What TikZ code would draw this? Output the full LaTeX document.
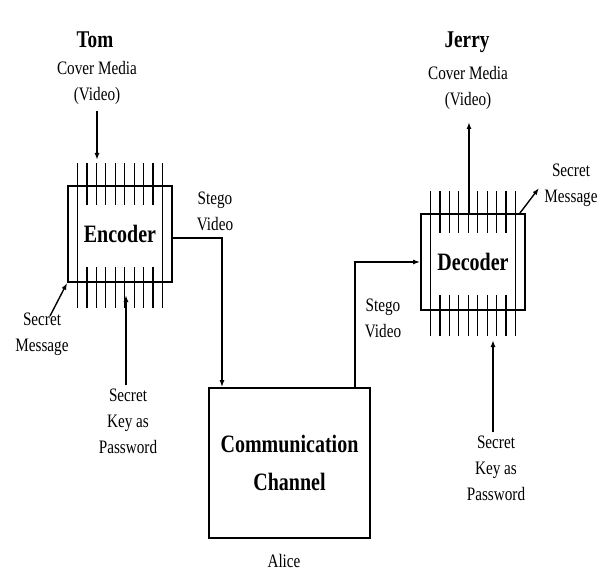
\documentclass[tikz,border=0pt]{standalone}
\usepackage{fontspec}
\setmainfont{Liberation Serif}[FakeStretch=0.8]
\usetikzlibrary{arrows.meta}
\begin{document}
\begin{tikzpicture}[x=1pt,y=-1pt,
  lbl/.style={font=\fontsize{19}{26}\selectfont, align=center, inner sep=0pt},
  ttl/.style={font=\fontsize{24}{28}\selectfont\bfseries, inner sep=0pt},
  block/.style={draw, line width=1.7pt, minimum width=104pt, minimum height=96pt, inner sep=0pt, font=\fontsize{25}{38}\selectfont\bfseries, align=center},
  tick/.style={line width=1.3pt},
  arr/.style={line width=1.4pt, -{Latex[length=7pt,width=5pt]}},
]
\useasboundingbox (0,0) rectangle (608,575);

% texts
\node[ttl] (tom) at (95,40) {Tom};
\node[lbl] (cmL) at (97,83) {Cover Media\\(Video)};
\node[ttl] (jerry) at (467,42) {Jerry};
\node[lbl] (cmR) at (468,88) {Cover Media\\(Video)};
\node[lbl] (svL) at (215,211) {Stego\\Video};
\node[lbl] (svR) at (383,318) {Stego\\Video};
\node[lbl] (smL) at (42,334) {Secret\\Message};
\node[lbl] (skL) at (128,421) {Secret\\Key as\\Password};
\node[lbl] (smR) at (571,185) {Secret\\Message};
\node[lbl] (skR) at (496,468) {Secret\\Key as\\Password};
\node[lbl] (alice) at (284,561) {Alice};

% blocks
\node[block] (enc) at (120,234) {Encoder};
\node[block] (dec) at (473,262) {Decoder};
\node[block, minimum width=161pt, minimum height=150pt] (cc) at (289.5,463) {Communication\\Channel};

% ticks
\foreach \b in {enc,dec} {
  \foreach \i in {0,...,9} {
    \draw[tick] ([xshift={-42.5pt+\i*9.444pt}, yshift=22pt]\b.north) -- ++(0,42);
    \draw[tick] ([xshift={-42.5pt+\i*9.444pt}, yshift=16pt]\b.south) -- ++(0,41);
  }
  \draw[tick] ([xshift=-42.5pt,yshift=22pt]\b.north) -- ([xshift=-42.5pt,yshift=-25pt]\b.south);
  \draw[tick] ([xshift=42.5pt,yshift=22pt]\b.north) -- ([xshift=42.5pt,yshift=-25pt]\b.south);
}

% connectors
\coordinate (cLe) at (97,160);
\coordinate (cRe) at (469,122);
\coordinate (smLs) at (50,316);
\coordinate (smRe) at (539,188);
\coordinate (kLe) at (126,295);
\coordinate (kRe) at (493,340);

\draw[arr] ([yshift=-6pt]cmL.south -| cLe) -- (cLe);
\draw[arr] ([yshift=-4pt]enc.east) -| ([xshift=-67.5pt]cc.north);
\draw[arr] ([xshift=65.5pt]cc.north) |- (dec.west);
\draw[arr] (dec.north -| cRe) -- (cRe);
\draw[arr] (smLs) -- (enc.south west);
\draw[arr] ([xshift=-6pt]dec.north east) -- (smRe);
\draw[arr] ([yshift=3pt]skL.north -| kLe) -- (kLe);
\draw[arr] ([yshift=3pt]skR.north -| kRe) -- (kRe);
\end{tikzpicture}
\end{document}
